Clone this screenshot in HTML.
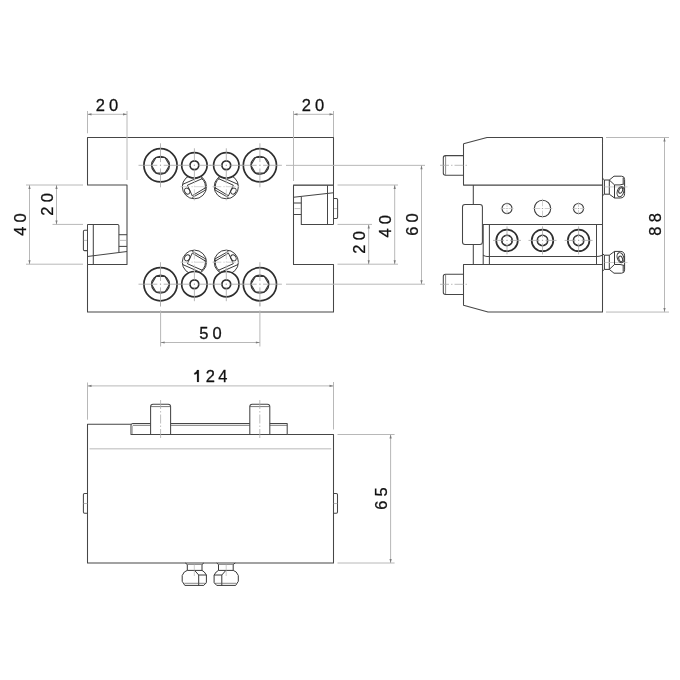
<!DOCTYPE html>
<html><head><meta charset="utf-8"><style>
html,body{margin:0;padding:0;background:#fff;width:680px;height:680px;overflow:hidden}
svg{display:block;will-change:transform}
.t{font-family:"Liberation Sans",sans-serif;font-size:16.5px;fill:#111;letter-spacing:4.1px;stroke:#111;stroke-width:0.28px;text-anchor:middle}
</style></head><body>
<svg width="680" height="680" viewBox="0 0 680 680">
<path d="M87.5,137.5 H333.5 V185 H293.5 V264.5 H333.5 V312 H87.5 V264.5 H127 V185 H87.5 Z" stroke="#464646" stroke-width="1.05" stroke-linejoin="round" fill="none"/>
<circle cx="160.5" cy="165.3" r="16.6" stroke="#2e2e2e" stroke-width="1.7" fill="none"/>
<polygon points="169.50,165.30 165.00,173.09 156.00,173.09 151.50,165.30 156.00,157.51 165.00,157.51" stroke="#3a3a3a" stroke-width="1.1" fill="none"/>
<circle cx="160.5" cy="165.3" r="9.0" stroke="#333" stroke-width="1.2" fill="none"/>
<line x1="138.5" y1="165.3" x2="157.3" y2="165.3" stroke="#a4a4a4" stroke-width="0.8" fill="none"/>
<line x1="163.7" y1="165.3" x2="182.5" y2="165.3" stroke="#a4a4a4" stroke-width="0.8" fill="none"/>
<line x1="160.5" y1="143.3" x2="160.5" y2="162.10000000000002" stroke="#a4a4a4" stroke-width="0.8" fill="none"/>
<line x1="160.5" y1="168.5" x2="160.5" y2="187.3" stroke="#a4a4a4" stroke-width="0.8" fill="none"/>
<line x1="159.9" y1="165.3" x2="161.1" y2="165.3" stroke="#a4a4a4" stroke-width="0.8" fill="none"/>
<line x1="160.5" y1="164.70000000000002" x2="160.5" y2="165.9" stroke="#a4a4a4" stroke-width="0.8" fill="none"/>
<circle cx="259.9" cy="165.3" r="16.6" stroke="#2e2e2e" stroke-width="1.7" fill="none"/>
<polygon points="268.90,165.30 264.40,173.09 255.40,173.09 250.90,165.30 255.40,157.51 264.40,157.51" stroke="#3a3a3a" stroke-width="1.1" fill="none"/>
<circle cx="259.9" cy="165.3" r="9.0" stroke="#333" stroke-width="1.2" fill="none"/>
<line x1="237.89999999999998" y1="165.3" x2="256.7" y2="165.3" stroke="#a4a4a4" stroke-width="0.8" fill="none"/>
<line x1="263.09999999999997" y1="165.3" x2="281.9" y2="165.3" stroke="#a4a4a4" stroke-width="0.8" fill="none"/>
<line x1="259.9" y1="143.3" x2="259.9" y2="162.10000000000002" stroke="#a4a4a4" stroke-width="0.8" fill="none"/>
<line x1="259.9" y1="168.5" x2="259.9" y2="187.3" stroke="#a4a4a4" stroke-width="0.8" fill="none"/>
<line x1="259.29999999999995" y1="165.3" x2="260.5" y2="165.3" stroke="#a4a4a4" stroke-width="0.8" fill="none"/>
<line x1="259.9" y1="164.70000000000002" x2="259.9" y2="165.9" stroke="#a4a4a4" stroke-width="0.8" fill="none"/>
<circle cx="160.5" cy="284.2" r="16.6" stroke="#2e2e2e" stroke-width="1.7" fill="none"/>
<polygon points="169.50,284.20 165.00,291.99 156.00,291.99 151.50,284.20 156.00,276.41 165.00,276.41" stroke="#3a3a3a" stroke-width="1.1" fill="none"/>
<circle cx="160.5" cy="284.2" r="9.0" stroke="#333" stroke-width="1.2" fill="none"/>
<line x1="138.5" y1="284.2" x2="157.3" y2="284.2" stroke="#a4a4a4" stroke-width="0.8" fill="none"/>
<line x1="163.7" y1="284.2" x2="182.5" y2="284.2" stroke="#a4a4a4" stroke-width="0.8" fill="none"/>
<line x1="160.5" y1="262.2" x2="160.5" y2="281.0" stroke="#a4a4a4" stroke-width="0.8" fill="none"/>
<line x1="160.5" y1="287.4" x2="160.5" y2="306.2" stroke="#a4a4a4" stroke-width="0.8" fill="none"/>
<line x1="159.9" y1="284.2" x2="161.1" y2="284.2" stroke="#a4a4a4" stroke-width="0.8" fill="none"/>
<line x1="160.5" y1="283.59999999999997" x2="160.5" y2="284.8" stroke="#a4a4a4" stroke-width="0.8" fill="none"/>
<circle cx="259.9" cy="284.2" r="16.6" stroke="#2e2e2e" stroke-width="1.7" fill="none"/>
<polygon points="268.90,284.20 264.40,291.99 255.40,291.99 250.90,284.20 255.40,276.41 264.40,276.41" stroke="#3a3a3a" stroke-width="1.1" fill="none"/>
<circle cx="259.9" cy="284.2" r="9.0" stroke="#333" stroke-width="1.2" fill="none"/>
<line x1="237.89999999999998" y1="284.2" x2="256.7" y2="284.2" stroke="#a4a4a4" stroke-width="0.8" fill="none"/>
<line x1="263.09999999999997" y1="284.2" x2="281.9" y2="284.2" stroke="#a4a4a4" stroke-width="0.8" fill="none"/>
<line x1="259.9" y1="262.2" x2="259.9" y2="281.0" stroke="#a4a4a4" stroke-width="0.8" fill="none"/>
<line x1="259.9" y1="287.4" x2="259.9" y2="306.2" stroke="#a4a4a4" stroke-width="0.8" fill="none"/>
<line x1="259.29999999999995" y1="284.2" x2="260.5" y2="284.2" stroke="#a4a4a4" stroke-width="0.8" fill="none"/>
<line x1="259.9" y1="283.59999999999997" x2="259.9" y2="284.8" stroke="#a4a4a4" stroke-width="0.8" fill="none"/>
<circle cx="194.4" cy="165.3" r="12.7" stroke="#2e2e2e" stroke-width="1.7" fill="none"/>
<circle cx="194.4" cy="165.3" r="4.4" stroke="#2e2e2e" stroke-width="1.7" fill="none"/>
<line x1="177.4" y1="165.3" x2="190.4" y2="165.3" stroke="#a4a4a4" stroke-width="0.8" fill="none"/>
<line x1="198.4" y1="165.3" x2="211.4" y2="165.3" stroke="#a4a4a4" stroke-width="0.8" fill="none"/>
<line x1="194.4" y1="148.3" x2="194.4" y2="161.3" stroke="#a4a4a4" stroke-width="0.8" fill="none"/>
<line x1="194.4" y1="169.3" x2="194.4" y2="182.3" stroke="#a4a4a4" stroke-width="0.8" fill="none"/>
<line x1="193.8" y1="165.3" x2="195.0" y2="165.3" stroke="#a4a4a4" stroke-width="0.8" fill="none"/>
<line x1="194.4" y1="164.70000000000002" x2="194.4" y2="165.9" stroke="#a4a4a4" stroke-width="0.8" fill="none"/>
<circle cx="226.3" cy="165.3" r="12.7" stroke="#2e2e2e" stroke-width="1.7" fill="none"/>
<circle cx="226.3" cy="165.3" r="4.4" stroke="#2e2e2e" stroke-width="1.7" fill="none"/>
<line x1="209.3" y1="165.3" x2="222.3" y2="165.3" stroke="#a4a4a4" stroke-width="0.8" fill="none"/>
<line x1="230.3" y1="165.3" x2="243.3" y2="165.3" stroke="#a4a4a4" stroke-width="0.8" fill="none"/>
<line x1="226.3" y1="148.3" x2="226.3" y2="161.3" stroke="#a4a4a4" stroke-width="0.8" fill="none"/>
<line x1="226.3" y1="169.3" x2="226.3" y2="182.3" stroke="#a4a4a4" stroke-width="0.8" fill="none"/>
<line x1="225.70000000000002" y1="165.3" x2="226.9" y2="165.3" stroke="#a4a4a4" stroke-width="0.8" fill="none"/>
<line x1="226.3" y1="164.70000000000002" x2="226.3" y2="165.9" stroke="#a4a4a4" stroke-width="0.8" fill="none"/>
<circle cx="194.4" cy="284.2" r="12.7" stroke="#2e2e2e" stroke-width="1.7" fill="none"/>
<circle cx="194.4" cy="284.2" r="4.4" stroke="#2e2e2e" stroke-width="1.7" fill="none"/>
<line x1="177.4" y1="284.2" x2="190.4" y2="284.2" stroke="#a4a4a4" stroke-width="0.8" fill="none"/>
<line x1="198.4" y1="284.2" x2="211.4" y2="284.2" stroke="#a4a4a4" stroke-width="0.8" fill="none"/>
<line x1="194.4" y1="267.2" x2="194.4" y2="280.2" stroke="#a4a4a4" stroke-width="0.8" fill="none"/>
<line x1="194.4" y1="288.2" x2="194.4" y2="301.2" stroke="#a4a4a4" stroke-width="0.8" fill="none"/>
<line x1="193.8" y1="284.2" x2="195.0" y2="284.2" stroke="#a4a4a4" stroke-width="0.8" fill="none"/>
<line x1="194.4" y1="283.59999999999997" x2="194.4" y2="284.8" stroke="#a4a4a4" stroke-width="0.8" fill="none"/>
<circle cx="226.3" cy="284.2" r="12.7" stroke="#2e2e2e" stroke-width="1.7" fill="none"/>
<circle cx="226.3" cy="284.2" r="4.4" stroke="#2e2e2e" stroke-width="1.7" fill="none"/>
<line x1="209.3" y1="284.2" x2="222.3" y2="284.2" stroke="#a4a4a4" stroke-width="0.8" fill="none"/>
<line x1="230.3" y1="284.2" x2="243.3" y2="284.2" stroke="#a4a4a4" stroke-width="0.8" fill="none"/>
<line x1="226.3" y1="267.2" x2="226.3" y2="280.2" stroke="#a4a4a4" stroke-width="0.8" fill="none"/>
<line x1="226.3" y1="288.2" x2="226.3" y2="301.2" stroke="#a4a4a4" stroke-width="0.8" fill="none"/>
<line x1="225.70000000000002" y1="284.2" x2="226.9" y2="284.2" stroke="#a4a4a4" stroke-width="0.8" fill="none"/>
<line x1="226.3" y1="283.59999999999997" x2="226.3" y2="284.8" stroke="#a4a4a4" stroke-width="0.8" fill="none"/>
<g transform="translate(194.4,186.7) scale(1,1)">
<clipPath id="ic1"><path clip-rule="evenodd" d="M-20,-20 H20 V20 H-20 Z M0,-34.0 A12.6,12.6 0 1 0 0,-8.799999999999999 A12.6,12.6 0 1 0 0,-34.0 Z"/></clipPath>
<g clip-path="url(#ic1)">
<circle cx="0" cy="0" r="12.1" stroke="#303030" stroke-width="0.95" fill="none"/>
<path d="M-11.8,-2.3 L6.8,-10.5" stroke="#303030" stroke-width="0.95" fill="none"/>
<path d="M-7.0,-1.5 L7.9,-8.1" stroke="#303030" stroke-width="0.95" fill="none"/>
<path d="M-2.1,10.85 L11.8,3.0" stroke="#303030" stroke-width="0.95" fill="none"/>
<path d="M-2.0,9.0 L11.2,1.0" stroke="#303030" stroke-width="0.95" fill="none"/>
<path d="M-7.0,-1.5 L-2.0,9.4" stroke="#303030" stroke-width="0.95" fill="none"/>
<ellipse cx="-7.2" cy="4.4" rx="2.5" ry="3.2" transform="rotate(-30 -7.2 4.4)" stroke="#333" stroke-width="0.95" fill="none"/>
<path d="M7.0,-8.4 A10.9,10.9 0 0 1 10.6,2.6" stroke="#303030" stroke-width="0.95" fill="none"/>
</g></g>
<line x1="180.4" y1="186.7" x2="208.4" y2="186.7" stroke="#c8c8c8" stroke-width="0.8" fill="none" stroke-dasharray="9,2,1.5,2"/>
<line x1="194.4" y1="174.7" x2="194.4" y2="200.7" stroke="#c8c8c8" stroke-width="0.8" fill="none" stroke-dasharray="9,2,1.5,2"/>
<g transform="translate(226.3,186.7) scale(-1,1)">
<clipPath id="ic2"><path clip-rule="evenodd" d="M-20,-20 H20 V20 H-20 Z M0,-34.0 A12.6,12.6 0 1 0 0,-8.799999999999999 A12.6,12.6 0 1 0 0,-34.0 Z"/></clipPath>
<g clip-path="url(#ic2)">
<circle cx="0" cy="0" r="12.1" stroke="#303030" stroke-width="0.95" fill="none"/>
<path d="M-11.8,-2.3 L6.8,-10.5" stroke="#303030" stroke-width="0.95" fill="none"/>
<path d="M-7.0,-1.5 L7.9,-8.1" stroke="#303030" stroke-width="0.95" fill="none"/>
<path d="M-2.1,10.85 L11.8,3.0" stroke="#303030" stroke-width="0.95" fill="none"/>
<path d="M-2.0,9.0 L11.2,1.0" stroke="#303030" stroke-width="0.95" fill="none"/>
<path d="M-7.0,-1.5 L-2.0,9.4" stroke="#303030" stroke-width="0.95" fill="none"/>
<ellipse cx="-7.2" cy="4.4" rx="2.5" ry="3.2" transform="rotate(-30 -7.2 4.4)" stroke="#333" stroke-width="0.95" fill="none"/>
<path d="M7.0,-8.4 A10.9,10.9 0 0 1 10.6,2.6" stroke="#303030" stroke-width="0.95" fill="none"/>
</g></g>
<line x1="212.3" y1="186.7" x2="240.3" y2="186.7" stroke="#c8c8c8" stroke-width="0.8" fill="none" stroke-dasharray="9,2,1.5,2"/>
<line x1="226.3" y1="174.7" x2="226.3" y2="200.7" stroke="#c8c8c8" stroke-width="0.8" fill="none" stroke-dasharray="9,2,1.5,2"/>
<g transform="translate(194.4,262.2) scale(1,-1)">
<clipPath id="ic3"><path clip-rule="evenodd" d="M-20,-20 H20 V20 H-20 Z M0,-34.4 A12.6,12.6 0 1 0 0,-9.200000000000001 A12.6,12.6 0 1 0 0,-34.4 Z"/></clipPath>
<g clip-path="url(#ic3)">
<circle cx="0" cy="0" r="12.1" stroke="#303030" stroke-width="0.95" fill="none"/>
<path d="M-11.8,-2.3 L6.8,-10.5" stroke="#303030" stroke-width="0.95" fill="none"/>
<path d="M-7.0,-1.5 L7.9,-8.1" stroke="#303030" stroke-width="0.95" fill="none"/>
<path d="M-2.1,10.85 L11.8,3.0" stroke="#303030" stroke-width="0.95" fill="none"/>
<path d="M-2.0,9.0 L11.2,1.0" stroke="#303030" stroke-width="0.95" fill="none"/>
<path d="M-7.0,-1.5 L-2.0,9.4" stroke="#303030" stroke-width="0.95" fill="none"/>
<ellipse cx="-7.2" cy="4.4" rx="2.5" ry="3.2" transform="rotate(-30 -7.2 4.4)" stroke="#333" stroke-width="0.95" fill="none"/>
<path d="M7.0,-8.4 A10.9,10.9 0 0 1 10.6,2.6" stroke="#303030" stroke-width="0.95" fill="none"/>
</g></g>
<line x1="180.4" y1="262.2" x2="208.4" y2="262.2" stroke="#c8c8c8" stroke-width="0.8" fill="none" stroke-dasharray="9,2,1.5,2"/>
<line x1="194.4" y1="250.2" x2="194.4" y2="274.2" stroke="#c8c8c8" stroke-width="0.8" fill="none" stroke-dasharray="9,2,1.5,2"/>
<g transform="translate(226.3,262.2) scale(-1,-1)">
<clipPath id="ic4"><path clip-rule="evenodd" d="M-20,-20 H20 V20 H-20 Z M0,-34.4 A12.6,12.6 0 1 0 0,-9.200000000000001 A12.6,12.6 0 1 0 0,-34.4 Z"/></clipPath>
<g clip-path="url(#ic4)">
<circle cx="0" cy="0" r="12.1" stroke="#303030" stroke-width="0.95" fill="none"/>
<path d="M-11.8,-2.3 L6.8,-10.5" stroke="#303030" stroke-width="0.95" fill="none"/>
<path d="M-7.0,-1.5 L7.9,-8.1" stroke="#303030" stroke-width="0.95" fill="none"/>
<path d="M-2.1,10.85 L11.8,3.0" stroke="#303030" stroke-width="0.95" fill="none"/>
<path d="M-2.0,9.0 L11.2,1.0" stroke="#303030" stroke-width="0.95" fill="none"/>
<path d="M-7.0,-1.5 L-2.0,9.4" stroke="#303030" stroke-width="0.95" fill="none"/>
<ellipse cx="-7.2" cy="4.4" rx="2.5" ry="3.2" transform="rotate(-30 -7.2 4.4)" stroke="#333" stroke-width="0.95" fill="none"/>
<path d="M7.0,-8.4 A10.9,10.9 0 0 1 10.6,2.6" stroke="#303030" stroke-width="0.95" fill="none"/>
</g></g>
<line x1="212.3" y1="262.2" x2="240.3" y2="262.2" stroke="#c8c8c8" stroke-width="0.8" fill="none" stroke-dasharray="9,2,1.5,2"/>
<line x1="226.3" y1="250.2" x2="226.3" y2="274.2" stroke="#c8c8c8" stroke-width="0.8" fill="none" stroke-dasharray="9,2,1.5,2"/>
<path d="M87.5,224.4 H117.6 Q118.9,224.4 118.9,225.7 V252" stroke="#464646" stroke-width="1.05" stroke-linejoin="round" fill="none"/>
<line x1="93.3" y1="224.4" x2="93.3" y2="264.5" stroke="#464646" stroke-width="1.05" stroke-linejoin="round" fill="none"/>
<line x1="87.5" y1="256.5" x2="127" y2="251.4" stroke="#464646" stroke-width="1.05" stroke-linejoin="round" fill="none"/>
<line x1="118.9" y1="234.7" x2="127" y2="234.7" stroke="#464646" stroke-width="1.05" stroke-linejoin="round" fill="none"/>
<line x1="118.9" y1="246.4" x2="127" y2="246.4" stroke="#464646" stroke-width="1.05" stroke-linejoin="round" fill="none"/>
<path d="M87.5,230.3 H84.6 Q83.4,230.3 83.4,231.5 V249.4 Q83.4,250.6 84.6,250.6 H87.5" stroke="#464646" stroke-width="1.05" stroke-linejoin="round" fill="none"/>
<line x1="87.5" y1="224.4" x2="87.5" y2="264.5" stroke="#464646" stroke-width="1.05" stroke-linejoin="round" fill="none"/>
<line x1="83.8" y1="240.4" x2="87" y2="240.4" stroke="#acacac" stroke-width="0.8" fill="none" stroke-dasharray="9,2,1.5,2"/>
<line x1="120" y1="240.4" x2="126" y2="240.4" stroke="#acacac" stroke-width="0.8" fill="none" stroke-dasharray="9,2,1.5,2"/>
<line x1="327.5" y1="185" x2="327.5" y2="224.5" stroke="#464646" stroke-width="1.05" stroke-linejoin="round" fill="none"/>
<line x1="333.5" y1="185" x2="333.5" y2="224.5" stroke="#464646" stroke-width="1.05" stroke-linejoin="round" fill="none"/>
<line x1="293.5" y1="185.5" x2="333.5" y2="185.5" stroke="#555" stroke-width="0.8" fill="none"/>
<line x1="293.5" y1="197.3" x2="333.5" y2="192.7" stroke="#464646" stroke-width="1.05" stroke-linejoin="round" fill="none"/>
<path d="M301.3,196.8 V224.5 H333.5" stroke="#464646" stroke-width="1.05" stroke-linejoin="round" fill="none"/>
<line x1="293.5" y1="203" x2="301.3" y2="203" stroke="#464646" stroke-width="1.05" stroke-linejoin="round" fill="none"/>
<line x1="293.5" y1="214.5" x2="301.3" y2="214.5" stroke="#464646" stroke-width="1.05" stroke-linejoin="round" fill="none"/>
<path d="M333.5,198.5 H336.4 Q337.6,198.5 337.6,199.7 V217.3 Q337.6,218.5 336.4,218.5 H333.5" stroke="#464646" stroke-width="1.05" stroke-linejoin="round" fill="none"/>
<line x1="294.5" y1="208.6" x2="300.5" y2="208.6" stroke="#acacac" stroke-width="0.8" fill="none" stroke-dasharray="9,2,1.5,2"/>
<line x1="334" y1="208.6" x2="337" y2="208.6" stroke="#acacac" stroke-width="0.8" fill="none" stroke-dasharray="9,2,1.5,2"/>
<path d="M463.5,143.7 L487,137.5 H602.5 V312 H488 L463.5,305.2 V264.4 H602.5" stroke="#464646" stroke-width="1.05" stroke-linejoin="round" fill="none"/>
<path d="M463.5,143.7 V185.1 H602.5" stroke="#464646" stroke-width="1.05" stroke-linejoin="round" fill="none"/>
<path d="M463.5,155.6 H445.5 Q443.3,155.6 443.3,157.8 V173 Q443.3,175.2 445.5,175.2 H463.5" stroke="#464646" stroke-width="1.05" stroke-linejoin="round" fill="none"/>
<line x1="445.6" y1="156" x2="445.6" y2="174.8" stroke="#555" stroke-width="0.7" fill="none"/>
<line x1="440" y1="165.3" x2="467" y2="165.3" stroke="#acacac" stroke-width="0.8" fill="none" stroke-dasharray="9,2,1.5,2"/>
<path d="M463.5,274.3 H445.5 Q443.3,274.3 443.3,276.5 V292.2 Q443.3,294.4 445.5,294.4 H463.5" stroke="#464646" stroke-width="1.05" stroke-linejoin="round" fill="none"/>
<line x1="445.6" y1="274.7" x2="445.6" y2="294" stroke="#555" stroke-width="0.7" fill="none"/>
<line x1="440" y1="284.3" x2="467" y2="284.3" stroke="#acacac" stroke-width="0.8" fill="none" stroke-dasharray="9,2,1.5,2"/>
<line x1="473.3" y1="185.1" x2="473.3" y2="204.5" stroke="#464646" stroke-width="1.05" stroke-linejoin="round" fill="none"/>
<line x1="473.3" y1="244.5" x2="473.3" y2="264.4" stroke="#464646" stroke-width="1.05" stroke-linejoin="round" fill="none"/>
<rect x="462.5" y="204.5" width="19.9" height="40" rx="2.5" stroke="#464646" stroke-width="1.05" stroke-linejoin="round" fill="none"/>
<path d="M483.2,264.4 V224.5 H602.5" stroke="#464646" stroke-width="1.05" stroke-linejoin="round" fill="none"/>
<line x1="489.4" y1="224.5" x2="489.4" y2="264.4" stroke="#464646" stroke-width="1.05" stroke-linejoin="round" fill="none"/>
<line x1="596.5" y1="224.5" x2="596.5" y2="264.4" stroke="#464646" stroke-width="1.05" stroke-linejoin="round" fill="none"/>
<path d="M483.2,255 Q484,256.5 489.4,256.5 H596.5 Q599,256.5 602.5,255.2" stroke="#464646" stroke-width="1.05" stroke-linejoin="round" fill="none"/>
<circle cx="507" cy="240.4" r="10.8" stroke="#2e2e2e" stroke-width="1.7" fill="none"/>
<circle cx="507" cy="240.4" r="5.4" stroke="#333" stroke-width="1.2" fill="none"/>
<polygon points="511.68,243.10 507.00,245.80 502.32,243.10 502.32,237.70 507.00,235.00 511.68,237.70" stroke="#3a3a3a" stroke-width="1.0" fill="none"/>
<line x1="493" y1="240.4" x2="504.0" y2="240.4" stroke="#a4a4a4" stroke-width="0.8" fill="none"/>
<line x1="510.0" y1="240.4" x2="521" y2="240.4" stroke="#a4a4a4" stroke-width="0.8" fill="none"/>
<line x1="507" y1="226.4" x2="507" y2="237.4" stroke="#a4a4a4" stroke-width="0.8" fill="none"/>
<line x1="507" y1="243.4" x2="507" y2="254.4" stroke="#a4a4a4" stroke-width="0.8" fill="none"/>
<line x1="506.4" y1="240.4" x2="507.6" y2="240.4" stroke="#a4a4a4" stroke-width="0.8" fill="none"/>
<line x1="507" y1="239.8" x2="507" y2="241.0" stroke="#a4a4a4" stroke-width="0.8" fill="none"/>
<circle cx="542.5" cy="240.4" r="10.8" stroke="#2e2e2e" stroke-width="1.7" fill="none"/>
<circle cx="542.5" cy="240.4" r="5.4" stroke="#333" stroke-width="1.2" fill="none"/>
<polygon points="547.18,243.10 542.50,245.80 537.82,243.10 537.82,237.70 542.50,235.00 547.18,237.70" stroke="#3a3a3a" stroke-width="1.0" fill="none"/>
<line x1="528.5" y1="240.4" x2="539.5" y2="240.4" stroke="#a4a4a4" stroke-width="0.8" fill="none"/>
<line x1="545.5" y1="240.4" x2="556.5" y2="240.4" stroke="#a4a4a4" stroke-width="0.8" fill="none"/>
<line x1="542.5" y1="226.4" x2="542.5" y2="237.4" stroke="#a4a4a4" stroke-width="0.8" fill="none"/>
<line x1="542.5" y1="243.4" x2="542.5" y2="254.4" stroke="#a4a4a4" stroke-width="0.8" fill="none"/>
<line x1="541.9" y1="240.4" x2="543.1" y2="240.4" stroke="#a4a4a4" stroke-width="0.8" fill="none"/>
<line x1="542.5" y1="239.8" x2="542.5" y2="241.0" stroke="#a4a4a4" stroke-width="0.8" fill="none"/>
<circle cx="578.6" cy="240.4" r="10.8" stroke="#2e2e2e" stroke-width="1.7" fill="none"/>
<circle cx="578.6" cy="240.4" r="5.4" stroke="#333" stroke-width="1.2" fill="none"/>
<polygon points="583.28,243.10 578.60,245.80 573.92,243.10 573.92,237.70 578.60,235.00 583.28,237.70" stroke="#3a3a3a" stroke-width="1.0" fill="none"/>
<line x1="564.6" y1="240.4" x2="575.6" y2="240.4" stroke="#a4a4a4" stroke-width="0.8" fill="none"/>
<line x1="581.6" y1="240.4" x2="592.6" y2="240.4" stroke="#a4a4a4" stroke-width="0.8" fill="none"/>
<line x1="578.6" y1="226.4" x2="578.6" y2="237.4" stroke="#a4a4a4" stroke-width="0.8" fill="none"/>
<line x1="578.6" y1="243.4" x2="578.6" y2="254.4" stroke="#a4a4a4" stroke-width="0.8" fill="none"/>
<line x1="578.0" y1="240.4" x2="579.2" y2="240.4" stroke="#a4a4a4" stroke-width="0.8" fill="none"/>
<line x1="578.6" y1="239.8" x2="578.6" y2="241.0" stroke="#a4a4a4" stroke-width="0.8" fill="none"/>
<circle cx="507" cy="208.5" r="5.0" stroke="#3c3c3c" stroke-width="1.1" fill="none"/>
<line x1="500.5" y1="208.5" x2="505.4" y2="208.5" stroke="#c4c4c4" stroke-width="0.8" fill="none"/>
<line x1="507" y1="202.0" x2="507" y2="206.9" stroke="#c4c4c4" stroke-width="0.8" fill="none"/>
<line x1="508.6" y1="208.5" x2="513.5" y2="208.5" stroke="#c4c4c4" stroke-width="0.8" fill="none"/>
<line x1="507" y1="210.1" x2="507" y2="215.0" stroke="#c4c4c4" stroke-width="0.8" fill="none"/>
<line x1="506.4" y1="208.5" x2="507.6" y2="208.5" stroke="#999" stroke-width="0.9" fill="none"/>
<circle cx="542.5" cy="208.5" r="8.2" stroke="#3c3c3c" stroke-width="1.1" fill="none"/>
<line x1="532.8" y1="208.5" x2="540.3" y2="208.5" stroke="#c4c4c4" stroke-width="0.8" fill="none"/>
<line x1="542.5" y1="198.8" x2="542.5" y2="206.3" stroke="#c4c4c4" stroke-width="0.8" fill="none"/>
<line x1="544.7" y1="208.5" x2="552.2" y2="208.5" stroke="#c4c4c4" stroke-width="0.8" fill="none"/>
<line x1="542.5" y1="210.7" x2="542.5" y2="218.2" stroke="#c4c4c4" stroke-width="0.8" fill="none"/>
<line x1="541.9" y1="208.5" x2="543.1" y2="208.5" stroke="#999" stroke-width="0.9" fill="none"/>
<circle cx="578.5" cy="208.5" r="5.0" stroke="#3c3c3c" stroke-width="1.1" fill="none"/>
<line x1="572.0" y1="208.5" x2="576.9" y2="208.5" stroke="#c4c4c4" stroke-width="0.8" fill="none"/>
<line x1="578.5" y1="202.0" x2="578.5" y2="206.9" stroke="#c4c4c4" stroke-width="0.8" fill="none"/>
<line x1="580.1" y1="208.5" x2="585.0" y2="208.5" stroke="#c4c4c4" stroke-width="0.8" fill="none"/>
<line x1="578.5" y1="210.1" x2="578.5" y2="215.0" stroke="#c4c4c4" stroke-width="0.8" fill="none"/>
<line x1="577.9" y1="208.5" x2="579.1" y2="208.5" stroke="#999" stroke-width="0.9" fill="none"/>
<g transform="translate(0,187.1) scale(1,1)">
<path d="M602.5,-8.9 L604.4,-7.1 H609.3 V7.1 H604.4 L602.5,8.6" stroke="#383838" stroke-width="1" fill="none"/>
<line x1="604.4" y1="-7.1" x2="604.4" y2="7.1" stroke="#383838" stroke-width="1" fill="none"/>
<path d="M609.3,-7.1 L614,-10.9 H621.5 Q624.6,-10.9 624.6,-7.6 V6.5 Q624.6,10.9 620.2,10.9 H614.5 L609.3,7.1" stroke="#383838" stroke-width="1" fill="none"/>
<line x1="604.5" y1="-0.2" x2="627.5" y2="-0.2" stroke="#c0c0c0" stroke-width="0.8" fill="none"/>
<path d="M609.3,-7.1 L614.5,-2.2 H620 L624.5,-3.2" stroke="#383838" stroke-width="1" fill="none"/>
<line x1="614.5" y1="-2.2" x2="614.5" y2="10.9" stroke="#383838" stroke-width="1" fill="none"/>
<line x1="623.2" y1="-9.4" x2="623.2" y2="-3.2" stroke="#383838" stroke-width="1" fill="none"/>
<ellipse cx="620.5" cy="4.6" rx="3.2" ry="5.2" transform="rotate(18 620.5 4.6)" stroke="#383838" stroke-width="1" fill="none"/>
<ellipse cx="620.7" cy="3.4" rx="1.8" ry="2.9" transform="rotate(22 620.7 3.4)" stroke="#383838" stroke-width="1" fill="none"/>
</g>
<g transform="translate(0,262.3) scale(1,-1)">
<path d="M602.5,-8.9 L604.4,-7.1 H609.3 V7.1 H604.4 L602.5,8.6" stroke="#383838" stroke-width="1" fill="none"/>
<line x1="604.4" y1="-7.1" x2="604.4" y2="7.1" stroke="#383838" stroke-width="1" fill="none"/>
<path d="M609.3,-7.1 L614,-10.9 H621.5 Q624.6,-10.9 624.6,-7.6 V6.5 Q624.6,10.9 620.2,10.9 H614.5 L609.3,7.1" stroke="#383838" stroke-width="1" fill="none"/>
<line x1="604.5" y1="-0.2" x2="627.5" y2="-0.2" stroke="#c0c0c0" stroke-width="0.8" fill="none"/>
<path d="M609.3,-7.1 L614.5,-2.2 H620 L624.5,-3.2" stroke="#383838" stroke-width="1" fill="none"/>
<line x1="614.5" y1="-2.2" x2="614.5" y2="10.9" stroke="#383838" stroke-width="1" fill="none"/>
<line x1="623.2" y1="-9.4" x2="623.2" y2="-3.2" stroke="#383838" stroke-width="1" fill="none"/>
<ellipse cx="620.5" cy="4.6" rx="3.2" ry="5.2" transform="rotate(18 620.5 4.6)" stroke="#383838" stroke-width="1" fill="none"/>
<ellipse cx="620.7" cy="3.4" rx="1.8" ry="2.9" transform="rotate(22 620.7 3.4)" stroke="#383838" stroke-width="1" fill="none"/>
</g>
<path d="M131,424.3 H87.5 V562.9 H333.5 V434.5 H287.2" stroke="#464646" stroke-width="1.05" stroke-linejoin="round" fill="none"/>
<path d="M150.7,423.4 H133 Q131,423.4 131,425.4 V434.5 H287.2 V423.4 H269.8 M249.9,423.4 H170.75" stroke="#464646" stroke-width="1.05" stroke-linejoin="round" fill="none"/>
<line x1="133" y1="425.3" x2="150.7" y2="425.3" stroke="#555" stroke-width="0.8" fill="none"/>
<line x1="170.75" y1="425.3" x2="249.9" y2="425.3" stroke="#555" stroke-width="0.8" fill="none"/>
<line x1="269.8" y1="425.3" x2="287.2" y2="425.3" stroke="#555" stroke-width="0.8" fill="none"/>
<line x1="132.3" y1="425.5" x2="132.3" y2="434" stroke="#aaa" stroke-width="1" fill="none"/>
<path d="M150.6,434.5 V406.6 Q150.6,404.2 153.0,404.2 H168.2 Q170.6,404.2 170.6,406.6 V434.5" stroke="#464646" stroke-width="1.05" stroke-linejoin="round" fill="none"/>
<line x1="150.6" y1="406.6" x2="170.6" y2="406.6" stroke="#555" stroke-width="0.8" fill="none"/>
<line x1="160.6" y1="400" x2="160.6" y2="438" stroke="#acacac" stroke-width="0.8" fill="none" stroke-dasharray="9,2,1.5,2"/>
<path d="M249.8,434.5 V406.6 Q249.8,404.2 252.20000000000002,404.2 H267.40000000000003 Q269.8,404.2 269.8,406.6 V434.5" stroke="#464646" stroke-width="1.05" stroke-linejoin="round" fill="none"/>
<line x1="249.8" y1="406.6" x2="269.8" y2="406.6" stroke="#555" stroke-width="0.8" fill="none"/>
<line x1="259.8" y1="400" x2="259.8" y2="438" stroke="#acacac" stroke-width="0.8" fill="none" stroke-dasharray="9,2,1.5,2"/>
<line x1="89.5" y1="448.8" x2="331.3" y2="448.8" stroke="#d0d0d0" stroke-width="1.4" fill="none"/>
<path d="M87.5,493.4 H84.6 Q83.4,493.4 83.4,494.6 V512.1 Q83.4,513.3 84.6,513.3 H87.5" stroke="#464646" stroke-width="1.05" stroke-linejoin="round" fill="none"/>
<line x1="83.4" y1="503.5" x2="87.5" y2="503.5" stroke="#999" stroke-width="0.7" fill="none"/>
<path d="M333.5,493.4 H336.3 Q337.5,493.4 337.5,494.6 V512.1 Q337.5,513.3 336.3,513.3 H333.5" stroke="#464646" stroke-width="1.05" stroke-linejoin="round" fill="none"/>
<line x1="333.5" y1="503.5" x2="337.5" y2="503.5" stroke="#999" stroke-width="0.7" fill="none"/>
<g transform="translate(194.3,0) scale(1,1)">
<path d="M-9,563 L-7,564.5 V570.4 M7.7,564.5 L9.5,563 M7.7,564.5 V570.4" stroke="#383838" stroke-width="1" fill="none"/>
<line x1="-7" y1="564.5" x2="7.7" y2="564.5" stroke="#666" stroke-width="0.7" fill="none"/>
<line x1="-7" y1="570.4" x2="7.7" y2="570.4" stroke="#383838" stroke-width="1" fill="none"/>
<path d="M-7,570.4 L-10,572 L-12.1,575.5 V581.3 L-9.5,585.4 H9.5 L12.1,582.5 V575 L10,572 L7.7,570.4" stroke="#383838" stroke-width="1" fill="none"/>
<path d="M0.3,570.4 L4.4,575 H12.1" stroke="#383838" stroke-width="1" fill="none"/>
<line x1="4.4" y1="575" x2="4.4" y2="585.4" stroke="#383838" stroke-width="1" fill="none"/>
<line x1="-10" y1="583.3" x2="12" y2="583.3" stroke="#555" stroke-width="0.7" fill="none"/>
<line x1="0" y1="563.5" x2="0" y2="576" stroke="#aaa" stroke-width="0.6" fill="none"/>
</g>
<g transform="translate(226.2,0) scale(-1,1)">
<path d="M-9,563 L-7,564.5 V570.4 M7.7,564.5 L9.5,563 M7.7,564.5 V570.4" stroke="#383838" stroke-width="1" fill="none"/>
<line x1="-7" y1="564.5" x2="7.7" y2="564.5" stroke="#666" stroke-width="0.7" fill="none"/>
<line x1="-7" y1="570.4" x2="7.7" y2="570.4" stroke="#383838" stroke-width="1" fill="none"/>
<path d="M-7,570.4 L-10,572 L-12.1,575.5 V581.3 L-9.5,585.4 H9.5 L12.1,582.5 V575 L10,572 L7.7,570.4" stroke="#383838" stroke-width="1" fill="none"/>
<path d="M0.3,570.4 L4.4,575 H12.1" stroke="#383838" stroke-width="1" fill="none"/>
<line x1="4.4" y1="575" x2="4.4" y2="585.4" stroke="#383838" stroke-width="1" fill="none"/>
<line x1="-10" y1="583.3" x2="12" y2="583.3" stroke="#555" stroke-width="0.7" fill="none"/>
<line x1="0" y1="563.5" x2="0" y2="576" stroke="#aaa" stroke-width="0.6" fill="none"/>
</g>
<line x1="87.5" y1="111" x2="87.5" y2="133.3" stroke="#b8b8b8" stroke-width="1" fill="none"/>
<line x1="127" y1="111" x2="127" y2="180" stroke="#b8b8b8" stroke-width="1" fill="none"/>
<line x1="87.5" y1="114.3" x2="127" y2="114.3" stroke="#b8b8b8" stroke-width="1" fill="none"/>
<path d="M91.50,113.20 L87.5,114.3 L91.50,115.40 Z" fill="#7a7a7a" stroke="none"/>
<path d="M123.00,115.40 L127,114.3 L123.00,113.20 Z" fill="#7a7a7a" stroke="none"/>
<line x1="293.5" y1="111" x2="293.5" y2="181" stroke="#b8b8b8" stroke-width="1" fill="none"/>
<line x1="333.5" y1="111" x2="333.5" y2="137" stroke="#b8b8b8" stroke-width="1" fill="none"/>
<line x1="293.5" y1="114.3" x2="333.5" y2="114.3" stroke="#b8b8b8" stroke-width="1" fill="none"/>
<path d="M297.50,113.20 L293.5,114.3 L297.50,115.40 Z" fill="#7a7a7a" stroke="none"/>
<path d="M329.50,115.40 L333.5,114.3 L329.50,113.20 Z" fill="#7a7a7a" stroke="none"/>
<line x1="26" y1="185" x2="83" y2="185" stroke="#b8b8b8" stroke-width="1" fill="none"/>
<line x1="26" y1="264.2" x2="83" y2="264.2" stroke="#b8b8b8" stroke-width="1" fill="none"/>
<line x1="29.5" y1="185" x2="29.5" y2="264.2" stroke="#b8b8b8" stroke-width="1" fill="none"/>
<path d="M30.60,189.00 L29.5,185 L28.40,189.00 Z" fill="#7a7a7a" stroke="none"/>
<path d="M28.40,260.20 L29.5,264.2 L30.60,260.20 Z" fill="#7a7a7a" stroke="none"/>
<line x1="52.5" y1="224.4" x2="83" y2="224.4" stroke="#b8b8b8" stroke-width="1" fill="none"/>
<line x1="56.5" y1="185" x2="56.5" y2="224.4" stroke="#b8b8b8" stroke-width="1" fill="none"/>
<path d="M57.60,189.00 L56.5,185 L55.40,189.00 Z" fill="#7a7a7a" stroke="none"/>
<path d="M55.40,220.40 L56.5,224.4 L57.60,220.40 Z" fill="#7a7a7a" stroke="none"/>
<line x1="160.6" y1="310.5" x2="160.6" y2="346.5" stroke="#b8b8b8" stroke-width="1" fill="none"/>
<line x1="259.9" y1="310.5" x2="259.9" y2="346.5" stroke="#b8b8b8" stroke-width="1" fill="none"/>
<line x1="160.5" y1="303" x2="160.5" y2="306.5" stroke="#acacac" stroke-width="0.8" fill="none" stroke-dasharray="9,2,1.5,2"/>
<line x1="259.9" y1="303" x2="259.9" y2="306.5" stroke="#acacac" stroke-width="0.8" fill="none" stroke-dasharray="9,2,1.5,2"/>
<line x1="160.6" y1="342.5" x2="259.9" y2="342.5" stroke="#b8b8b8" stroke-width="1" fill="none"/>
<path d="M164.60,341.40 L160.6,342.5 L164.60,343.60 Z" fill="#7a7a7a" stroke="none"/>
<path d="M255.90,343.60 L259.9,342.5 L255.90,341.40 Z" fill="#7a7a7a" stroke="none"/>
<line x1="337.5" y1="185" x2="398" y2="185" stroke="#b8b8b8" stroke-width="1" fill="none"/>
<line x1="337.5" y1="224.4" x2="372" y2="224.4" stroke="#b8b8b8" stroke-width="1" fill="none"/>
<line x1="337.5" y1="264.2" x2="398" y2="264.2" stroke="#b8b8b8" stroke-width="1" fill="none"/>
<line x1="368.7" y1="224.4" x2="368.7" y2="264.2" stroke="#b8b8b8" stroke-width="1" fill="none"/>
<path d="M369.80,228.40 L368.7,224.4 L367.60,228.40 Z" fill="#7a7a7a" stroke="none"/>
<path d="M367.60,260.20 L368.7,264.2 L369.80,260.20 Z" fill="#7a7a7a" stroke="none"/>
<line x1="394.7" y1="185" x2="394.7" y2="264.2" stroke="#b8b8b8" stroke-width="1" fill="none"/>
<path d="M395.80,189.00 L394.7,185 L393.60,189.00 Z" fill="#7a7a7a" stroke="none"/>
<path d="M393.60,260.20 L394.7,264.2 L395.80,260.20 Z" fill="#7a7a7a" stroke="none"/>
<line x1="286" y1="165.35" x2="425" y2="165.35" stroke="#b8b8b8" stroke-width="1" fill="none"/>
<line x1="286" y1="284.2" x2="425" y2="284.2" stroke="#b8b8b8" stroke-width="1" fill="none"/>
<line x1="421.5" y1="165.35" x2="421.5" y2="284.2" stroke="#b8b8b8" stroke-width="1" fill="none"/>
<path d="M422.60,169.35 L421.5,165.35 L420.40,169.35 Z" fill="#7a7a7a" stroke="none"/>
<path d="M420.40,280.20 L421.5,284.2 L422.60,280.20 Z" fill="#7a7a7a" stroke="none"/>
<line x1="606" y1="137.5" x2="669" y2="137.5" stroke="#b8b8b8" stroke-width="1" fill="none"/>
<line x1="606" y1="312.05" x2="669" y2="312.05" stroke="#b8b8b8" stroke-width="1" fill="none"/>
<line x1="664.5" y1="137.5" x2="664.5" y2="312.05" stroke="#b8b8b8" stroke-width="1" fill="none"/>
<path d="M665.60,141.50 L664.5,137.5 L663.40,141.50 Z" fill="#7a7a7a" stroke="none"/>
<path d="M663.40,308.05 L664.5,312.05 L665.60,308.05 Z" fill="#7a7a7a" stroke="none"/>
<line x1="87.5" y1="382.5" x2="87.5" y2="419.7" stroke="#b8b8b8" stroke-width="1" fill="none"/>
<line x1="333.5" y1="382" x2="333.5" y2="429.5" stroke="#b8b8b8" stroke-width="1" fill="none"/>
<line x1="87.5" y1="385.9" x2="333.5" y2="385.9" stroke="#b8b8b8" stroke-width="1" fill="none"/>
<path d="M91.50,384.80 L87.5,385.9 L91.50,387.00 Z" fill="#7a7a7a" stroke="none"/>
<path d="M329.50,387.00 L333.5,385.9 L329.50,384.80 Z" fill="#7a7a7a" stroke="none"/>
<line x1="337.5" y1="434.5" x2="394.6" y2="434.5" stroke="#b8b8b8" stroke-width="1" fill="none"/>
<line x1="337.5" y1="563" x2="394.6" y2="563" stroke="#b8b8b8" stroke-width="1" fill="none"/>
<line x1="390.6" y1="434.5" x2="390.6" y2="563" stroke="#b8b8b8" stroke-width="1" fill="none"/>
<path d="M391.70,438.50 L390.6,434.5 L389.50,438.50 Z" fill="#7a7a7a" stroke="none"/>
<path d="M389.50,559.00 L390.6,563 L391.70,559.00 Z" fill="#7a7a7a" stroke="none"/>
<text x="109.05" y="110.7" class="t">20</text>
<text x="315.05" y="110.7" class="t">20</text>
<text x="212.45000000000002" y="339" class="t">50</text>
<path d="M197.05,370.1 H198.85 V381.9 H197.05 V373.6 Q195.9,374.5 194.3,374.6 V373.0 Q196.6,372.5 197.05,370.1 Z" fill="#111" stroke="#111" stroke-width="0.2"/>
<text x="210.3" y="381.9" class="t" style="letter-spacing:0">2</text>
<text x="222.9" y="381.9" class="t" style="letter-spacing:0">4</text>
<text x="0" y="0" transform="translate(26.3,222.54999999999998) rotate(-90)" class="t">40</text>
<text x="0" y="0" transform="translate(53.3,202.35) rotate(-90)" class="t">20</text>
<text x="0" y="0" transform="translate(365,240.35) rotate(-90)" class="t">20</text>
<text x="0" y="0" transform="translate(391.2,224.25) rotate(-90)" class="t">40</text>
<text x="0" y="0" transform="translate(417.6,222.45) rotate(-90)" class="t">60</text>
<text x="0" y="0" transform="translate(660.9,222.35) rotate(-90)" class="t">88</text>
<text x="0" y="0" transform="translate(386.8,496.55) rotate(-90)" class="t">65</text>
</svg>
</body></html>
